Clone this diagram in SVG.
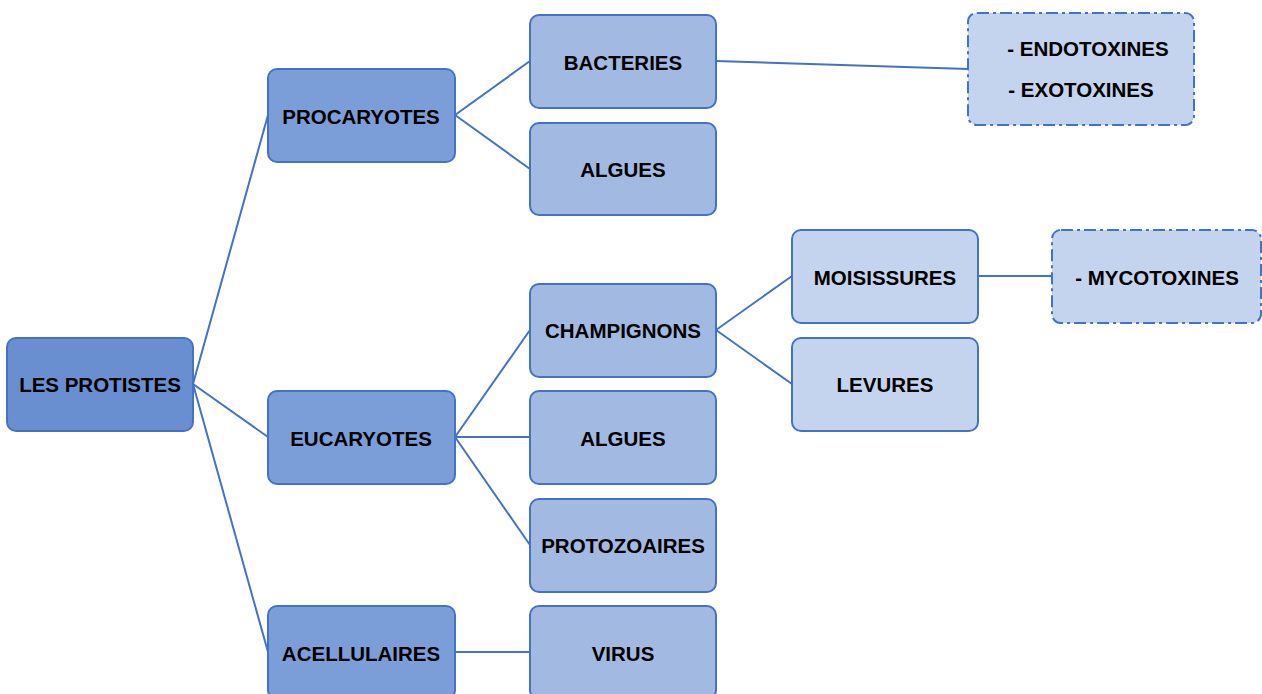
<svg xmlns="http://www.w3.org/2000/svg" width="1262" height="694" viewBox="0 0 1262 694">
<style>
.n rect{stroke:#4472C4;stroke-width:2}
.l0{fill:#6A8FD1}
.l1{fill:#7C9ED8}
.l2{fill:#A2B9E2}
.l3{fill:#C5D4EE}
.d{stroke-dasharray:12 4 3 4}
text{font-family:"Liberation Sans",Arial,sans-serif;font-weight:bold;font-size:20.5px;fill:#000;text-anchor:middle;dominant-baseline:central}
#connectors line{stroke:#4472C4;stroke-width:2}
</style>
<rect width="1262" height="694" fill="#fff"/>
<g id="connectors">
<line x1="193" y1="384" x2="268" y2="115"/>
<line x1="193" y1="384" x2="268" y2="437"/>
<line x1="193" y1="384" x2="268" y2="652"/>
<line x1="455" y1="115" x2="530" y2="61"/>
<line x1="455" y1="115" x2="530" y2="169"/>
<line x1="716" y1="61" x2="968" y2="69"/>
<line x1="455" y1="437" x2="530" y2="330"/>
<line x1="455" y1="437" x2="530" y2="437"/>
<line x1="455" y1="437" x2="530" y2="545"/>
<line x1="716" y1="330" x2="792" y2="276"/>
<line x1="716" y1="330" x2="792" y2="384"/>
<line x1="978" y1="276" x2="1052" y2="276"/>
<line x1="455" y1="652" x2="530" y2="652"/>
</g>
<g id="root" class="n"><rect class="l0" x="7" y="338" width="186" height="93" rx="9"/><text x="100" y="384">LES PROTISTES</text></g>
<g id="procaryotes" class="n"><rect class="l1" x="268" y="69" width="187" height="93" rx="9"/><text x="361" y="116">PROCARYOTES</text></g>
<g id="eucaryotes" class="n"><rect class="l1" x="268" y="391" width="187" height="93" rx="9"/><text x="361" y="438">EUCARYOTES</text></g>
<g id="acellulaires" class="n"><rect class="l1" x="268" y="606" width="187" height="93" rx="9"/><text x="361" y="653">ACELLULAIRES</text></g>
<g id="bacteries" class="n"><rect class="l2" x="530" y="15" width="186" height="93" rx="9"/><text x="623" y="62">BACTERIES</text></g>
<g id="algues1" class="n"><rect class="l2" x="530" y="123" width="186" height="92" rx="9"/><text x="623" y="169">ALGUES</text></g>
<g id="champignons" class="n"><rect class="l2" x="530" y="284" width="186" height="93" rx="9"/><text x="623" y="330">CHAMPIGNONS</text></g>
<g id="algues2" class="n"><rect class="l2" x="530" y="391" width="186" height="93" rx="9"/><text x="623" y="438">ALGUES</text></g>
<g id="protozoaires" class="n"><rect class="l2" x="530" y="499" width="186" height="93" rx="9"/><text x="623" y="545">PROTOZOAIRES</text></g>
<g id="virus" class="n"><rect class="l2" x="530" y="606" width="186" height="93" rx="9"/><text x="623" y="653">VIRUS</text></g>
<g id="moisissures" class="n"><rect class="l3" x="792" y="230" width="186" height="93" rx="9"/><text x="885" y="277">MOISISSURES</text></g>
<g id="levures" class="n"><rect class="l3" x="792" y="338" width="186" height="93" rx="9"/><text x="885" y="384">LEVURES</text></g>
<g id="toxines" class="n"><rect class="l3 d" x="968" y="13" width="226" height="112" rx="9"/><text x="1088" y="48">- ENDOTOXINES</text><text x="1081" y="89">- EXOTOXINES</text></g>
<g id="mycotoxines" class="n"><rect class="l3 d" x="1052" y="230" width="209" height="93" rx="9"/><text x="1157" y="277">- MYCOTOXINES</text></g>
</svg>
